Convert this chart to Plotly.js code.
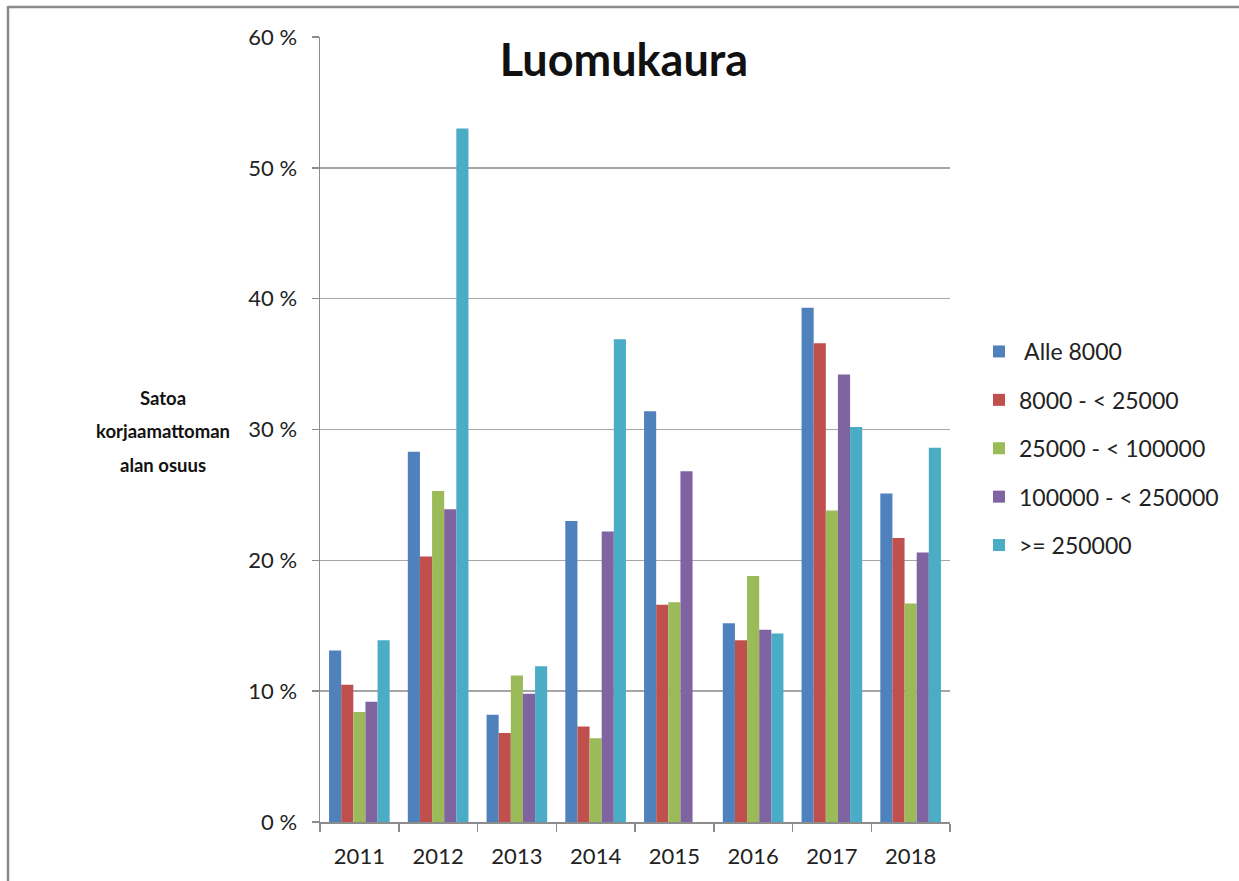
<!DOCTYPE html>
<html>
<head>
<meta charset="utf-8">
<script src="https://cdn.plot.ly/plotly-3.0.1.min.js"></script>
<style>
html,body{margin:0;padding:0;background:#fff;}
#chart{width:1239px;height:881px;}
</style>
</head>
<body>
<div id="chart"></div>
<script>
// Data (percent of unharvested area)
const years = ["2011","2012","2013","2014","2015","2016","2017","2018"];
const seriesNames = [" Alle 8000","8000 - < 25000","25000 - < 100000","100000 - < 250000",">= 250000"];
const alle8000     = [13.1, 28.3,  8.2, 23.0, 31.4, 15.2, 39.3, 25.1];
const s8000_25000  = [10.5, 20.3,  6.8,  7.3, 16.6, 13.9, 36.6, 21.7];
const s25000_100000= [ 8.4, 25.3, 11.2,  6.4, 16.8, 18.8, 23.8, 16.7];
const s100000_250000=[ 9.2, 23.9,  9.8, 22.2, 26.8, 14.7, 34.2, 20.6];
const s250000      = [13.9, 53.0, 11.9, 36.9,  null, 14.4, 30.2, 28.6];
const yTickVals = [0,10,20,30,40,50,60];
const yTickText = ["0 %","10 %","20 %","30 %","40 %","50 %","60 %"];
const yTitleLines = ["Satoa","korjaamattoman","alan osuus"];
const colors = ["#4F81BD","#C0504D","#9BBB59","#8064A2","#4BACC6"];

const allSeries = [alle8000, s8000_25000, s25000_100000, s100000_250000, s250000];
const traces = allSeries.map((vals,i)=>({
  type:"bar",
  name: seriesNames[i],
  x: years,
  y: vals,
  marker:{color:colors[i]},
  legendgroup:"g"+i
}));

const FONT = "Lato, 'Open Sans', 'Liberation Sans', sans-serif";
const L=320, R=950, T=37, B=822, W=1239, H=881;
const px = x => (x-L)/(R-L);
const py = y => (B-y)/(B-T);

const yTitleY = [398, 431, 465];
const annotations = yTitleLines.map((t,i)=>({
  text:"<b>"+t+"</b>",
  xref:"paper", yref:"paper",
  x:px(163), y:py(yTitleY[i]), xanchor:"center", yanchor:"middle",
  showarrow:false,
  font:{family:FONT, size:18.5, color:"#111"}
}));

const layout = {
  width:W, height:H,
  margin:{l:L, r:W-R, t:T, b:H-B, pad:0},
  paper_bgcolor:"#fff",
  plot_bgcolor:"#fff",
  barmode:"group",
  bargap:0.23,
  bargroupgap:0,
  font:{family:FONT, color:"#222", size:20},
  title:{
    text:"<b>Luomukaura</b>",
    font:{family:FONT, size:45, color:"#111"},
    x:px(624), xref:"paper", xanchor:"center",
    y:py(60), yref:"paper", yanchor:"middle"
  },
  xaxis:{
    type:"category",
    showgrid:false,
    showline:true, linecolor:"#8c8c8c", linewidth:1.5,
    ticks:"outside", tickson:"boundaries", ticklen:8, tickcolor:"#8c8c8c", tickwidth:1.5,
    ticklabelstandoff:14,
    tickfont:{family:FONT, size:22, color:"#222"},
    zeroline:false
  },
  yaxis:{
    range:[0,60],
    tickvals:yTickVals, ticktext:yTickText,
    showgrid:true, gridcolor:"#a6a6a6", gridwidth:1.5,
    showline:true, linecolor:"#8c8c8c", linewidth:1.5,
    ticks:"outside", ticklen:7, tickcolor:"#8c8c8c", tickwidth:1.5,
    ticklabelstandoff:10,
    tickfont:{family:FONT, size:22, color:"#222"},
    zeroline:false
  },
  legend:{
    x:px(979), xanchor:"left",
    y:py(330), yanchor:"top",
    font:{family:FONT, size:23, color:"#222"},
    tracegroupgap:15.5,
    bgcolor:"rgba(0,0,0,0)"
  },
  annotations:annotations,
  shapes:[
    {type:"line", xref:"paper", yref:"paper", x0:px(8), x1:px(1245), y0:py(7), y1:py(7), line:{color:"#8a8a8a", width:2.5}},
    {type:"line", xref:"paper", yref:"paper", x0:px(8), x1:px(8), y0:py(6), y1:py(890), line:{color:"#8a8a8a", width:2.5}}
  ],
  showlegend:true
};

Plotly.newPlot("chart", traces, layout, {displayModeBar:false, staticPlot:true});
</script>
</body>
</html>
